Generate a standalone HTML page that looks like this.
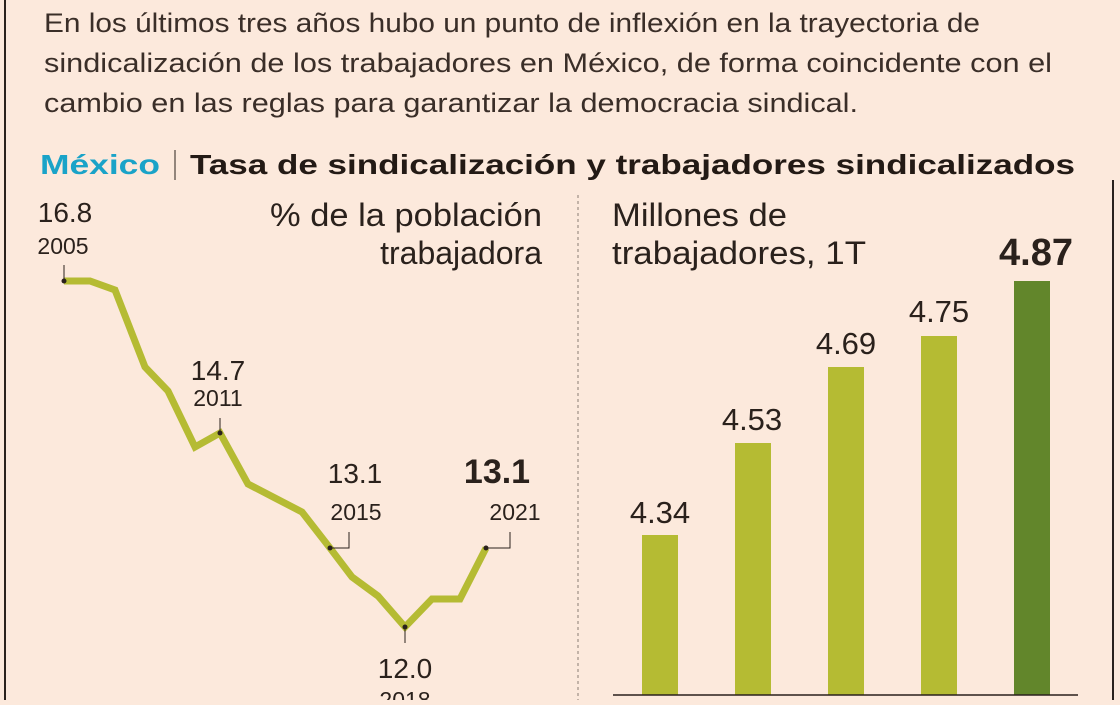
<!DOCTYPE html>
<html><head><meta charset="utf-8"><style>
body{margin:0;width:1120px;height:700px;background:#fce9dc;overflow:hidden;font-family:"Liberation Sans",sans-serif;color:#2a211c}
</style></head><body>
<svg width="1120" height="700" xmlns="http://www.w3.org/2000/svg" font-family="Liberation Sans, sans-serif">
<rect width="1120" height="700" fill="#fce9dc"/>
<line x1="5" y1="0" x2="5" y2="700" stroke="#2a211c" stroke-width="2"/>
<line x1="1113" y1="180" x2="1113" y2="700" stroke="#2a211c" stroke-width="2"/>
<g font-size="27" fill="#3a2e28">
<text x="44" y="32" textLength="936" lengthAdjust="spacingAndGlyphs">En los últimos tres años hubo un punto de inflexión en la trayectoria de</text>
<text x="44" y="72" textLength="1008" lengthAdjust="spacingAndGlyphs">sindicalización de los trabajadores en México, de forma coincidente con el</text>
<text x="44" y="112" textLength="814" lengthAdjust="spacingAndGlyphs">cambio en las reglas para garantizar la democracia sindical.</text>
</g>
<text x="40" y="174" font-size="28" font-weight="bold" fill="#1aa3c8" textLength="120" lengthAdjust="spacingAndGlyphs">México</text>
<line x1="175" y1="150" x2="175" y2="180" stroke="#2a211c" stroke-width="1"/>
<text x="190" y="174" font-size="28" font-weight="bold" fill="#231a15" textLength="885" lengthAdjust="spacingAndGlyphs">Tasa de sindicalización y trabajadores sindicalizados</text>
<line x1="578" y1="195" x2="578" y2="700" stroke="#8a7d75" stroke-width="1" stroke-dasharray="3,3"/>
<g font-size="32" fill="#2a211c">
<text x="270" y="226" textLength="272" lengthAdjust="spacingAndGlyphs">% de la población</text>
<text x="542" y="264" text-anchor="end">trabajadora</text>
<text x="612" y="226" textLength="175" lengthAdjust="spacingAndGlyphs">Millones de</text>
<text x="612" y="264" textLength="254" lengthAdjust="spacingAndGlyphs">trabajadores, 1T</text>
</g>
<polyline fill="none" stroke="#b5bb33" stroke-width="7" stroke-linejoin="miter" points="64,281 90,281 115,290 145,367 168,391 195,447 220,433 248,484 275,498 302,512 330,548 352,577 378,596 405,627 432,599 460,599 486,548"/>
<g stroke="#2a211c" stroke-width="1" fill="none">
<polyline points="64,281 64,265"/>
<polyline points="220,433 220,418"/>
<polyline points="330,548 349,548 349,532"/>
<polyline points="405,627 405,643"/>
<polyline points="486,548 510,548 510,532"/>
</g>
<g fill="#2a211c"><circle cx="64" cy="281" r="2.5"/><circle cx="220" cy="433" r="2.5"/><circle cx="330" cy="548" r="2.5"/><circle cx="405" cy="627" r="2.5"/><circle cx="486" cy="548" r="2.5"/></g>
<g font-size="28" fill="#2a211c" text-anchor="middle">
<text x="65" y="222">16.8</text><text x="63" y="254" font-size="23">2005</text>
<text x="218" y="380">14.7</text><text x="218" y="406" font-size="23">2011</text>
<text x="355" y="483">13.1</text><text x="356" y="520" font-size="23">2015</text>
<text x="405" y="678">12.0</text><text x="405" y="708" font-size="23">2018</text>
<text x="497" y="483" font-weight="bold" font-size="34">13.1</text><text x="515" y="520" font-size="23">2021</text>
</g>
<g fill="#b5bb33">
<rect x="642" y="535" width="36" height="160"/>
<rect x="735" y="443" width="36" height="252"/>
<rect x="828" y="367" width="36" height="328"/>
<rect x="921" y="336" width="36" height="359"/>
</g>
<rect x="1014" y="281" width="36" height="414" fill="#62862b"/>
<line x1="613" y1="695" x2="1078" y2="695" stroke="#2a211c" stroke-width="1.5"/>
<g font-size="31" fill="#2a211c" text-anchor="middle">
<text x="660" y="523">4.34</text>
<text x="752" y="430">4.53</text>
<text x="846" y="354">4.69</text>
<text x="939" y="322">4.75</text>
<text x="1036" y="265" font-weight="bold" font-size="38">4.87</text>
</g>
</svg>
</body></html>
